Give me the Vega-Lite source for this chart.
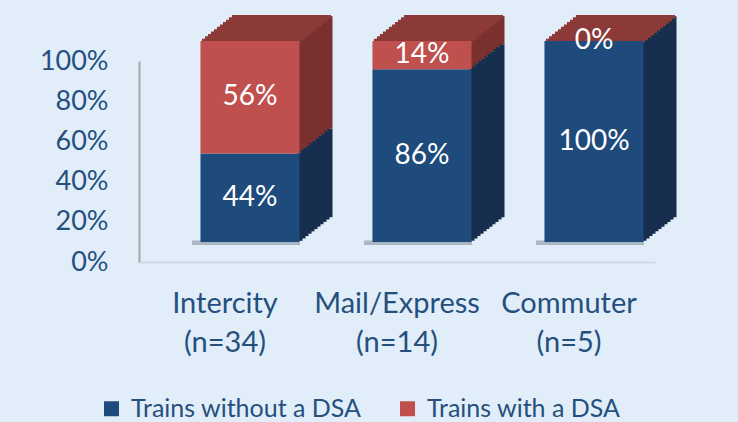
{
  "$schema": "https://vega.github.io/schema/vega-lite/v6.json",
  "width": 516,
  "height": 201,
  "autosize": "none",
  "padding": {"left": 139, "top": 61, "right": 83, "bottom": 160},
  "background": "#E1EDF9",
  "config": {
    "view": {"stroke": null},
    "font": "Lato",
    "axis": {"labelFont": "Lato", "labelColor": "#25507E", "labelFontSize": 27, "title": null, "ticks": false, "grid": false},
    "legend": {"labelFont": "Lato", "labelColor": "#25507E", "labelFontSize": 25, "labelLimit": 0}
  },
  "data": {
    "values": [
      {"category": "Intercity (n=34)", "segment": "Trains without a DSA", "order": 1, "value": 44},
      {"category": "Intercity (n=34)", "segment": "Trains with a DSA", "order": 2, "value": 56},
      {"category": "Mail/Express (n=14)", "segment": "Trains without a DSA", "order": 1, "value": 86},
      {"category": "Mail/Express (n=14)", "segment": "Trains with a DSA", "order": 2, "value": 14},
      {"category": "Commuter (n=5)", "segment": "Trains without a DSA", "order": 1, "value": 100},
      {"category": "Commuter (n=5)", "segment": "Trains with a DSA", "order": 2, "value": 0}
    ]
  },
  "transform": [
    {"stack": "value", "groupby": ["category"], "sort": [{"field": "order", "order": "ascending"}], "as": ["v0", "v1"]},
    {"calculate": "(datum.v0 + datum.v1) / 2", "as": "mid"},
    {"calculate": "datum.value + '%'", "as": "lbl"}
  ],
  "encoding": {
    "x": {
      "field": "category", "type": "nominal", "sort": null,
      "scale": {"paddingInner": 0.424, "paddingOuter": 0.212},
      "axis": {"labelAngle": 0, "labelPadding": 27, "labelFontSize": 29, "labelLineHeight": 39, "labelExpr": "split(datum.label, ' ')", "domainColor": "#CCDAEA", "domainWidth": 2}
    }
  },
  "layer": [
    {"mark": {"type": "bar", "color": "#3C4652", "opacity": 0.18, "width": 108, "xOffset": 21, "yOffset": -21.5, "y2Offset": -17}, "encoding": {"y": {"datum": 0, "type": "quantitative", "scale": {"domain": [0, 100], "nice": false}, "axis": {"values": [0, 20, 40, 60, 80, 100], "labelExpr": "datum.value + '%'", "labelPadding": 31, "domainColor": "#A6A6A6", "domainWidth": 2}}, "y2": {"datum": 0}}},
    {"mark": {"type": "bar", "width": 5, "xOffset": 75, "yOffset": -21.18, "y2Offset": -21.18}, "encoding": {"y": {"field": "v1", "type": "quantitative"}, "y2": {"field": "v0"}, "color": {"condition": {"test": "datum.order == 2", "value": "#7A302E"}, "value": "#172E4F"}}},
    {"mark": {"type": "bar", "width": 5, "xOffset": 78, "yOffset": -23.55, "y2Offset": -23.55}, "encoding": {"y": {"field": "v1", "type": "quantitative"}, "y2": {"field": "v0"}, "color": {"condition": {"test": "datum.order == 2", "value": "#7A302E"}, "value": "#172E4F"}}},
    {"mark": {"type": "bar", "width": 5, "xOffset": 81, "yOffset": -25.91, "y2Offset": -25.91}, "encoding": {"y": {"field": "v1", "type": "quantitative"}, "y2": {"field": "v0"}, "color": {"condition": {"test": "datum.order == 2", "value": "#7A302E"}, "value": "#172E4F"}}},
    {"mark": {"type": "bar", "width": 5, "xOffset": 84, "yOffset": -28.27, "y2Offset": -28.27}, "encoding": {"y": {"field": "v1", "type": "quantitative"}, "y2": {"field": "v0"}, "color": {"condition": {"test": "datum.order == 2", "value": "#7A302E"}, "value": "#172E4F"}}},
    {"mark": {"type": "bar", "width": 5, "xOffset": 87, "yOffset": -30.64, "y2Offset": -30.64}, "encoding": {"y": {"field": "v1", "type": "quantitative"}, "y2": {"field": "v0"}, "color": {"condition": {"test": "datum.order == 2", "value": "#7A302E"}, "value": "#172E4F"}}},
    {"mark": {"type": "bar", "width": 5, "xOffset": 90, "yOffset": -33.0, "y2Offset": -33.0}, "encoding": {"y": {"field": "v1", "type": "quantitative"}, "y2": {"field": "v0"}, "color": {"condition": {"test": "datum.order == 2", "value": "#7A302E"}, "value": "#172E4F"}}},
    {"mark": {"type": "bar", "width": 5, "xOffset": 93, "yOffset": -35.36, "y2Offset": -35.36}, "encoding": {"y": {"field": "v1", "type": "quantitative"}, "y2": {"field": "v0"}, "color": {"condition": {"test": "datum.order == 2", "value": "#7A302E"}, "value": "#172E4F"}}},
    {"mark": {"type": "bar", "width": 5, "xOffset": 96, "yOffset": -37.73, "y2Offset": -37.73}, "encoding": {"y": {"field": "v1", "type": "quantitative"}, "y2": {"field": "v0"}, "color": {"condition": {"test": "datum.order == 2", "value": "#7A302E"}, "value": "#172E4F"}}},
    {"mark": {"type": "bar", "width": 5, "xOffset": 99, "yOffset": -40.09, "y2Offset": -40.09}, "encoding": {"y": {"field": "v1", "type": "quantitative"}, "y2": {"field": "v0"}, "color": {"condition": {"test": "datum.order == 2", "value": "#7A302E"}, "value": "#172E4F"}}},
    {"mark": {"type": "bar", "width": 5, "xOffset": 102, "yOffset": -42.45, "y2Offset": -42.45}, "encoding": {"y": {"field": "v1", "type": "quantitative"}, "y2": {"field": "v0"}, "color": {"condition": {"test": "datum.order == 2", "value": "#7A302E"}, "value": "#172E4F"}}},
    {"mark": {"type": "bar", "width": 5, "xOffset": 105, "yOffset": -44.82, "y2Offset": -44.82}, "encoding": {"y": {"field": "v1", "type": "quantitative"}, "y2": {"field": "v0"}, "color": {"condition": {"test": "datum.order == 2", "value": "#7A302E"}, "value": "#172E4F"}}},

    {"transform": [{"filter": "datum.order == 2"}], "mark": {"type": "bar", "color": "#8C3A38", "xOffset": 26.5, "yOffset": -22.36, "y2Offset": -18.5}, "encoding": {"y": {"field": "v1", "type": "quantitative"}, "y2": {"field": "v1"}}},
    {"transform": [{"filter": "datum.order == 2"}], "mark": {"type": "bar", "color": "#8C3A38", "xOffset": 29.5, "yOffset": -24.73, "y2Offset": -20.86}, "encoding": {"y": {"field": "v1", "type": "quantitative"}, "y2": {"field": "v1"}}},
    {"transform": [{"filter": "datum.order == 2"}], "mark": {"type": "bar", "color": "#8C3A38", "xOffset": 32.5, "yOffset": -27.09, "y2Offset": -23.23}, "encoding": {"y": {"field": "v1", "type": "quantitative"}, "y2": {"field": "v1"}}},
    {"transform": [{"filter": "datum.order == 2"}], "mark": {"type": "bar", "color": "#8C3A38", "xOffset": 35.5, "yOffset": -29.45, "y2Offset": -25.59}, "encoding": {"y": {"field": "v1", "type": "quantitative"}, "y2": {"field": "v1"}}},
    {"transform": [{"filter": "datum.order == 2"}], "mark": {"type": "bar", "color": "#8C3A38", "xOffset": 38.5, "yOffset": -31.82, "y2Offset": -27.95}, "encoding": {"y": {"field": "v1", "type": "quantitative"}, "y2": {"field": "v1"}}},
    {"transform": [{"filter": "datum.order == 2"}], "mark": {"type": "bar", "color": "#8C3A38", "xOffset": 41.5, "yOffset": -34.18, "y2Offset": -30.32}, "encoding": {"y": {"field": "v1", "type": "quantitative"}, "y2": {"field": "v1"}}},
    {"transform": [{"filter": "datum.order == 2"}], "mark": {"type": "bar", "color": "#8C3A38", "xOffset": 44.5, "yOffset": -36.55, "y2Offset": -32.68}, "encoding": {"y": {"field": "v1", "type": "quantitative"}, "y2": {"field": "v1"}}},
    {"transform": [{"filter": "datum.order == 2"}], "mark": {"type": "bar", "color": "#8C3A38", "xOffset": 47.5, "yOffset": -38.91, "y2Offset": -35.05}, "encoding": {"y": {"field": "v1", "type": "quantitative"}, "y2": {"field": "v1"}}},
    {"transform": [{"filter": "datum.order == 2"}], "mark": {"type": "bar", "color": "#8C3A38", "xOffset": 50.5, "yOffset": -41.27, "y2Offset": -37.41}, "encoding": {"y": {"field": "v1", "type": "quantitative"}, "y2": {"field": "v1"}}},
    {"transform": [{"filter": "datum.order == 2"}], "mark": {"type": "bar", "color": "#8C3A38", "xOffset": 53.5, "yOffset": -43.64, "y2Offset": -39.77}, "encoding": {"y": {"field": "v1", "type": "quantitative"}, "y2": {"field": "v1"}}},
    {"transform": [{"filter": "datum.order == 2"}], "mark": {"type": "bar", "color": "#8C3A38", "xOffset": 56.5, "yOffset": -46.0, "y2Offset": -42.14}, "encoding": {"y": {"field": "v1", "type": "quantitative"}, "y2": {"field": "v1"}}},

    {
      "mark": {"type": "bar", "xOffset": 25, "yOffset": -20, "y2Offset": -20},
      "encoding": {
        "y": {"field": "v1", "type": "quantitative"},
        "y2": {"field": "v0"},
        "color": {
          "field": "segment", "type": "nominal",
          "scale": {"domain": ["Trains without a DSA", "Trains with a DSA"], "range": ["#1F4A7C", "#C0504D"]},
          "legend": {"orient": "none", "legendX": -40, "legendY": 335, "direction": "horizontal", "title": null, "symbolType": "square", "symbolSize": 225, "symbolStrokeWidth": 0, "symbolOpacity": 1, "columnPadding": 33, "labelOffset": 7}
        }
      }
    },
    {
      "mark": {"type": "text", "color": "white", "font": "Lato", "fontSize": 28, "xOffset": 25, "yOffset": -20, "baseline": "middle", "align": "center"},
      "encoding": {
        "y": {"field": "mid", "type": "quantitative"},
        "text": {"field": "lbl"}
      }
    }
  ]
}
